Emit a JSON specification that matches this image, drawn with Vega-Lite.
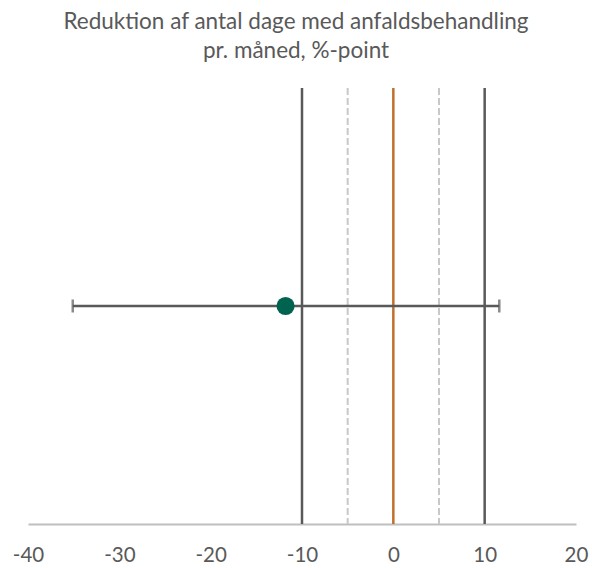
{
  "$schema": "https://vega.github.io/schema/vega-lite/v6.json",
  "width": 548,
  "height": 436,
  "autosize": {"type": "none"},
  "padding": {"left": 28, "top": 88, "right": 16, "bottom": 44},
  "background": "white",
  "title": {
    "text": ["Reduktion af antal dage med anfaldsbehandling", "pr. måned, %-point"],
    "font": "Lato",
    "fontSize": 22.5,
    "fontWeight": "normal",
    "color": "#595959",
    "lineHeight": 29,
    "anchor": "middle",
    "dx": -6,
    "offset": 24
  },
  "config": {"view": {"stroke": null}},
  "datasets": {
    "refs": [
      {"x": -10, "kind": "solid"},
      {"x": 10, "kind": "solid"},
      {"x": -5, "kind": "dashed"},
      {"x": 5, "kind": "dashed"},
      {"x": 0, "kind": "zero"}
    ],
    "est": [
      {"label": "Reduktion", "estimate": -11.8, "lower": -35.1, "upper": 11.6, "y": 0.5}
    ]
  },
  "encoding": {
    "x": {
      "type": "quantitative",
      "scale": {"domain": [-40, 20], "nice": false, "zero": false},
      "axis": {
        "values": [-40, -30, -20, -10, 0, 10, 20],
        "grid": false,
        "ticks": false,
        "title": null,
        "domainColor": "#bfbfbf",
        "domainWidth": 2,
        "labelExpr": "replace(datum.label, '−', '-')",
        "labelFont": "Lato",
        "labelFontSize": 20.5,
        "labelColor": "#595959",
        "labelPadding": 21,
        "labelFlush": false
      }
    }
  },
  "layer": [
    {
      "data": {"name": "refs"},
      "transform": [{"filter": "datum.kind == 'dashed'"}],
      "mark": {"type": "rule", "color": "#c8c8c8", "strokeWidth": 2, "strokeDash": [7, 3]},
      "encoding": {"x": {"field": "x", "type": "quantitative"}}
    },
    {
      "data": {"name": "refs"},
      "transform": [{"filter": "datum.kind == 'solid'"}],
      "mark": {"type": "rule", "color": "#595959", "strokeWidth": 2.5},
      "encoding": {"x": {"field": "x", "type": "quantitative"}}
    },
    {
      "data": {"name": "refs"},
      "transform": [{"filter": "datum.kind == 'zero'"}],
      "mark": {"type": "rule", "color": "#c0702a", "strokeWidth": 2.5},
      "encoding": {"x": {"field": "x", "type": "quantitative"}}
    },
    {
      "data": {"name": "est"},
      "mark": {"type": "rule", "color": "#595959", "strokeWidth": 2.5},
      "encoding": {
        "x": {"field": "lower", "type": "quantitative"},
        "x2": {"field": "upper"},
        "y": {"field": "y", "type": "quantitative", "scale": {"domain": [0, 1]}, "axis": null}
      }
    },
    {
      "data": {"name": "est"},
      "mark": {"type": "tick", "orient": "vertical", "color": "#595959", "size": 13, "thickness": 2.5},
      "encoding": {
        "x": {"field": "lower", "type": "quantitative"},
        "y": {"field": "y", "type": "quantitative", "scale": {"domain": [0, 1]}, "axis": null}
      }
    },
    {
      "data": {"name": "est"},
      "mark": {"type": "tick", "orient": "vertical", "color": "#595959", "size": 13, "thickness": 2.5},
      "encoding": {
        "x": {"field": "upper", "type": "quantitative"},
        "y": {"field": "y", "type": "quantitative", "scale": {"domain": [0, 1]}, "axis": null}
      }
    },
    {
      "data": {"name": "est"},
      "mark": {"type": "point", "filled": true, "color": "#00634f", "opacity": 1, "size": 330},
      "encoding": {
        "x": {"field": "estimate", "type": "quantitative"},
        "y": {"field": "y", "type": "quantitative", "scale": {"domain": [0, 1]}, "axis": null}
      }
    }
  ]
}
